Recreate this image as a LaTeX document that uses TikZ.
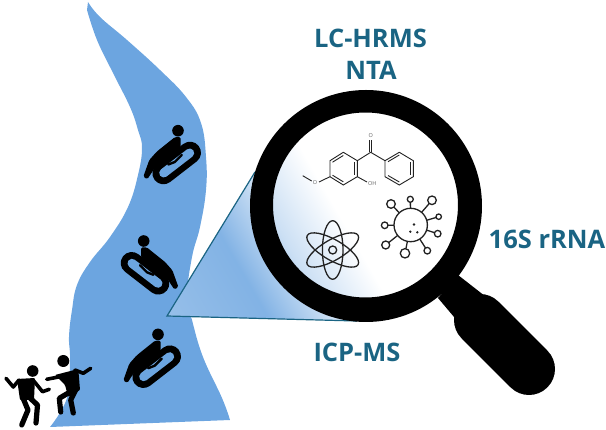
\documentclass[tikz,border=0pt]{standalone}
\usepackage{fontspec}
\setmainfont{Open Sans}
\definecolor{riverblue}{HTML}{6CA5E0}
\definecolor{labelteal}{HTML}{1A6483}
\definecolor{glyphgray}{HTML}{222222}
\pgfdeclareverticalshading{lensfade}{100bp}{color(0bp)=(riverblue!80!white); color(22bp)=(riverblue!70!white); color(38bp)=(riverblue!85!white); color(47bp)=(riverblue!35!white); color(57bp)=(white); color(100bp)=(white)}
\tikzset{
  method/.style={text=labelteal,font=\fontsize{25.5}{28}\selectfont\bfseries,inner sep=0pt},
  bond/.style={draw=glyphgray,line width=0.9pt},
  atomlabel/.style={text=glyphgray!70,font=\fontsize{5.5}{6}\selectfont,inner sep=0pt},
  orbit/.style={draw=glyphgray,line width=1.3pt},
  limb/.style={draw=black,line width=3.6pt,line cap=round,line join=round},
  leg/.style={limb,line width=5.2pt},
  rider/.pic={
    \draw[black,line width=22pt,line cap=round] (-13.3,10.3) -- (13.3,-10.3);
    \draw[riverblue,line width=9pt,line cap=round] (-13,10) -- (13,-10);
    \fill[black] (1.3,-32.3) circle (5.8);
    \fill[black,rounded corners=1.5pt] (-1.7,-26) -- (-20,-11.3) -- (-27.4,-3) -- (-33.4,13.7) -- (-29.4,16.3) -- (-22,5) -- (-13,-3) -- (4,-16) -- (4,-26) -- cycle;
    \draw[black,line width=2.4pt,line cap=round,line join=round] (-8.4,1.5) -- (-2,-1) -- (5,-8);
  }
}
\begin{document}
\begin{tikzpicture}[x=1pt,y=-1pt]
  \useasboundingbox (0,0) rectangle (606,430);
  % river
  \fill[riverblue] plot[smooth,tension=0.7] coordinates {(88,2) (100,17) (127,40) (160,70) (186,97) (201,123) (206,157) (206,190) (200,227) (192,257) (187,297) (192,320) (203,357) (222,398) (230,420)}
    -- plot[smooth,tension=0.7] coordinates {(50,427) (67,398) (70,360) (69,337) (72,310) (77,285) (90,262) (110,237) (128,207) (138,175) (142,148) (138,130) (130,107) (113,73) (97,40) (87,10)} -- cycle;
  \pic at (176.7,163) {rider};
  \pic[xscale=-1] at (145,273.3) {rider};
  \pic at (156.7,366.7) {rider};
  % two people on the bank
  \fill[black] (32.7,371) circle (5.8);
  \fill[black,rounded corners=1pt] (17,379) -- (35,378) -- (34,400) -- (20,400) -- cycle;
  \draw[limb] (19,380) -- (13.3,387) -- (6,378.3);
  \draw[limb] (33,380) -- (42.5,391.7) -- (49.3,389.3);
  \draw[leg] (23,398) -- (28,410) -- (21.7,425);
  \draw[leg] (30,398) -- (37.5,405) -- (36,423);
  \fill[black] (63.3,361) circle (6);
  \fill[black,rounded corners=1pt] (55,375) -- (78.3,369) -- (80,390) -- (68.3,397) -- (65,385) -- cycle;
  \draw[limb] (60,376.7) -- (46.7,379.3);
  \draw[limb] (75,370) -- (83.3,373.3) -- (90.7,368.3);
  \draw[leg] (68.3,393) -- (59.3,398.3) -- (60.7,412);
  \draw[leg] (76.7,388) -- (70.7,400) -- (73.3,413);
  % zoom cone and lens glass
  \coordinate (apex) at (167,316);
  \coordinate (conetop) at (255,172);
  \coordinate (conebot) at (357,321);
  \begin{scope}
    \clip (apex) -- (conetop) -- (300,125) -- (366,102) -- (440,133) -- (470,206) -- (440,279) -- (366,310) -- (conebot) -- cycle;
    \shade[shading=lensfade,shading angle=-60] (150,80) rectangle (450,380);
  \end{scope}
  \draw[labelteal,line width=1.2pt,line join=miter] (conetop) -- (apex) -- (conebot);
  % handle
  \fill[black] (458,275) -- (438,298) -- (465,330) -- (490,300) -- cycle;
  \draw[black,line width=52pt,line cap=round] (480,320) -- (529,369);
  % ring
  \fill[black,even odd rule] (366,206) circle (116) (365.5,205) circle (92.5);
  % molecule
  \draw[bond] (343.3,152.3) -- (357.3,160.7) -- (357.3,176.7) -- (343.3,185) -- (330,176.7) -- (330,160.7) -- cycle;
  \draw[bond] (332.5,162.2) -- (343.3,155.5);
  \draw[bond] (343.3,181.8) -- (332.5,175.2);
  \draw[bond] (354.7,162.5) -- (354.7,175);
  \draw[bond] (357.3,160.7) -- (370.7,152.3) -- (385,160.7);
  \draw[bond] (385,160.7) -- (399.3,152.3) -- (413.3,160.7) -- (413.3,176.7) -- (399.3,185) -- (385,176.7) -- cycle;
  \draw[bond] (388,161.7) -- (399.3,155);
  \draw[bond] (410.7,162.5) -- (410.7,175);
  \draw[bond] (399.3,182) -- (388,175.5);
  \draw[bond] (369.7,152.3) -- (369.7,140);
  \draw[bond] (371.9,152.3) -- (371.9,140);
  \draw[bond] (357.3,176.7) -- (367,182);
  \draw[bond] (330,176.7) -- (319,182);
  \draw[bond] (311.7,181) -- (302.7,175.7);
  \node[atomlabel] (carbonyl) at (370.7,136) {O};
  \node[atomlabel] (hydroxyl) at (372.3,183.5) {OH};
  \node[atomlabel] (methoxy) at (315,183) {O};
  % atom
  \draw[orbit] (332.7,250) circle (4);
  \foreach \tilt in {0,60,-60}
    \draw[orbit,rotate around={\tilt:(332.7,250)}] (332.7,250) ellipse (10.3 and 29.3);
  % virus
  \coordinate (virus) at (410.7,225);
  \foreach \sx/\sy/\sr in {391/204/4.3,410.3/199.3/3,432/200.3/4.3,438.7/216.7/2.7,437.7/233.7/3.3,427.3/250.7/3.3,405/253.3/4.7,385.7/245/4,384.7/225.3/3.3}{
    \draw[orbit] (virus) -- (\sx,\sy);
    \draw[orbit,fill=white] (\sx,\sy) circle (\sr);
  }
  \draw[orbit,fill=white] (virus) circle (16.7);
  \fill[glyphgray] (414,224.5) circle (1.3) (417.3,232.3) circle (1.3) (410.3,231.7) circle (1.3);
  % methods
  \node[method] (lchrms) at (370.5,38.5) {LC-HRMS};
  \node[method] (nta) at (371,70.5) {NTA};
  \node[method] (rrna) at (547,239) {16S rRNA};
  \node[method] (icpms) at (357,352) {ICP-MS};
\end{tikzpicture}
\end{document}
